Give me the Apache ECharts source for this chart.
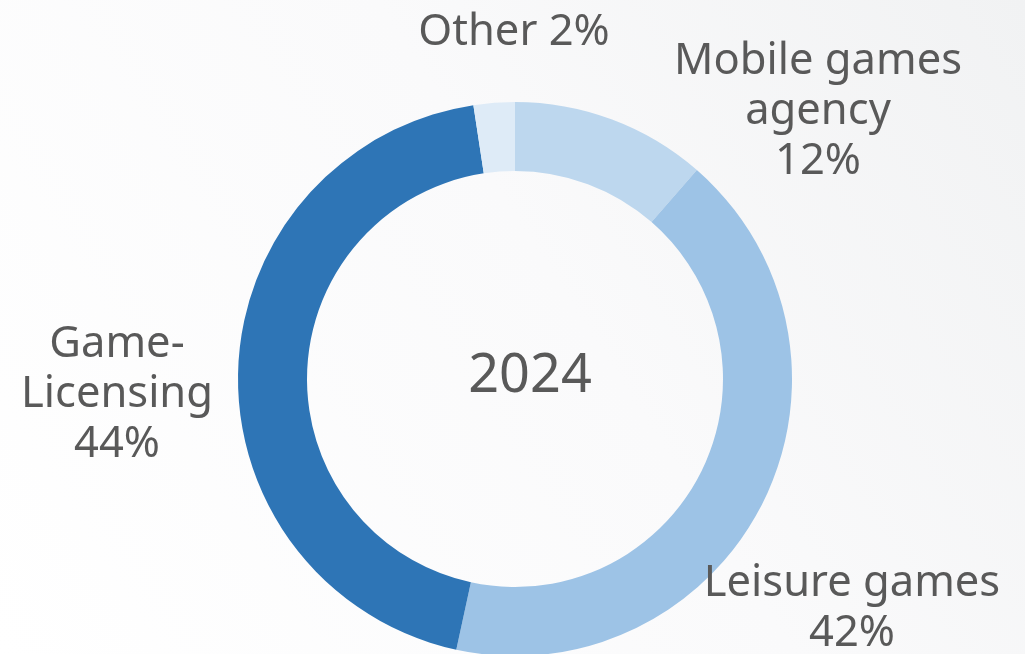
<!DOCTYPE html>
<html>
<head>
<meta charset="utf-8">
<style>
html,body{margin:0;padding:0;width:1025px;height:654px;overflow:hidden;}
#chart{width:1025px;height:654px;}
</style>
<script src="https://cdn.jsdelivr.net/npm/echarts@6/dist/echarts.min.js"></script>
</head>
<body>
<div id="chart"></div>
<script>
// Data
const categories = ['Mobile games agency', 'Leisure games', 'Game-Licensing', 'Other'];
const labelTexts = ['Mobile games\nagency', 'Leisure games', 'Game-\nLicensing', 'Other'];
const sliceValues = [11.4, 42.0, 44.2, 2.4];      // slice sizes as measured in the picture
const shownPercents = [12, 42, 44, 2];             // percentages printed in the labels
const centerTitle = '2024';

// Styles
const sliceColors = ['#BDD7EE', '#9DC3E6', '#2E75B6', '#DEEBF7'];
const labelAnchors = [[818, 112], [852, 609], [117, 395], [514, 33]];
const singleLine = [false, false, false, true];

const chart = echarts.init(document.getElementById('chart'), null, {renderer: 'canvas'});
const FONT = '"Noto Sans", "Open Sans", sans-serif';

chart.setOption({
  animation: false,
  backgroundColor: {
    type: 'linear', x: 0, y: 1, x2: 1, y2: 0,
    colorStops: [{offset: 0, color: '#FFFFFF'}, {offset: 0.55, color: '#FAFAFB'}, {offset: 1, color: '#F1F2F3'}]
  },
  title: {
    text: centerTitle,
    left: 525, top: 372,
    textAlign: 'center', textVerticalAlign: 'middle',
    textStyle: {fontFamily: FONT, fontSize: 54, fontWeight: 'normal', color: '#595959'}
  },
  series: [{
    type: 'pie',
    center: [515, 379],
    radius: [208, 277],
    startAngle: 90,
    clockwise: true,
    avoidLabelOverlap: false,
    itemStyle: {borderWidth: 0},
    emphasis: {disabled: true},
    label: {
      show: true,
      position: 'outside',
      fontFamily: FONT,
      fontSize: 43.5,
      lineHeight: 50,
      color: '#595959',
      align: 'center',
      formatter: function (p) {
        const i = p.dataIndex;
        const pct = shownPercents[i] + '%';
        return singleLine[i] ? labelTexts[i] + ' ' + pct : labelTexts[i] + '\n' + pct;
      }
    },
    labelLine: {show: false},
    labelLayout: function (params) {
      const a = labelAnchors[params.dataIndex];
      return {x: a[0], y: a[1], align: 'center', verticalAlign: 'middle'};
    },
    data: categories.map((c, i) => ({name: c, value: sliceValues[i], itemStyle: {color: sliceColors[i]}}))
  }]
});
</script>
</body>
</html>
